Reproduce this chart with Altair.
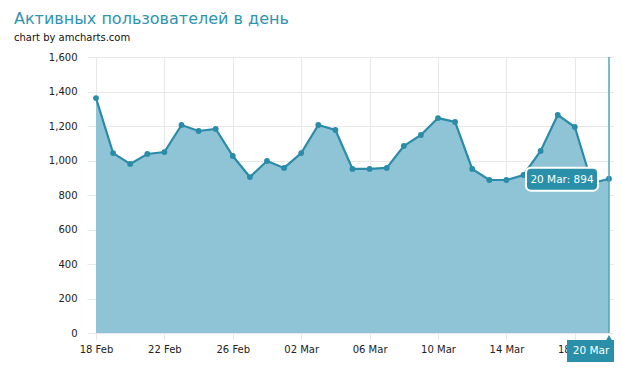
import altair as alt
import pandas as pd

dates = [
    "2014-02-18", "2014-02-19", "2014-02-20", "2014-02-21", "2014-02-22",
    "2014-02-23", "2014-02-24", "2014-02-25", "2014-02-26", "2014-02-27",
    "2014-02-28", "2014-03-01", "2014-03-02", "2014-03-03", "2014-03-04",
    "2014-03-05", "2014-03-06", "2014-03-07", "2014-03-08", "2014-03-09",
    "2014-03-10", "2014-03-11", "2014-03-12", "2014-03-13", "2014-03-14",
    "2014-03-15", "2014-03-16", "2014-03-17", "2014-03-18", "2014-03-19",
    "2014-03-20",
]
values = [
    1362, 1043, 980, 1038, 1049,
    1206, 1171, 1183, 1026, 904,
    997, 957, 1043, 1206, 1177,
    951, 951, 957, 1084, 1148,
    1246, 1223, 951, 887, 887,
    916, 1055, 1264, 1194, 868,
    894,
]
tick_dates = [(2014, 2, 18), (2014, 2, 22), (2014, 2, 26), (2014, 3, 2),
              (2014, 3, 6), (2014, 3, 10), (2014, 3, 14), (2014, 3, 18)]
y_ticks = [0, 200, 400, 600, 800, 1000, 1200, 1400, 1600]
cursor_label = "20 Mar"

df = pd.DataFrame({"date": dates, "value": values})
last = pd.DataFrame({
    "date": [dates[-1]],
    "value": [values[-1]],
    "tip": [f"{cursor_label}: {values[-1]}"],
    "lab": [cursor_label],
})

LINE = "#2a8ca8"
FILL = "#8fc4d6"
GRID = "#e8e8e8"
FONT = "DejaVu Sans"

x_scale = alt.Scale(
    type="utc",
    domain=[alt.DateTime(year=2014, month=2, date=18, utc=True),
            alt.DateTime(year=2014, month=3, date=20, hours=7, utc=True)],
)
x_axis = alt.Axis(
    values=[alt.DateTime(year=y, month=m, date=d, utc=True) for (y, m, d) in tick_dates],
    labelExpr="utcFormat(datum.value, '%d %b')", title=None, grid=True, gridColor=GRID,
    tickColor=GRID, tickSize=7, labelPadding=4, domain=False, labelFlush=False,
    labelFont=FONT, labelFontSize=10, labelColor="#222",
)
y_scale = alt.Scale(domain=[0, 1600], nice=False)
y_axis = alt.Axis(
    values=y_ticks, labelExpr="format(datum.value, ',')", title=None, grid=True,
    gridColor=GRID, tickColor=GRID, tickSize=9, labelPadding=10, domain=False,
    labelFont=FONT, labelFontSize=10, labelColor="#222",
)

X = alt.X("date:T", scale=x_scale, axis=x_axis)
Y = alt.Y("value:Q", scale=y_scale, axis=y_axis)
Y0 = alt.Y(datum=0, type="quantitative", scale=y_scale, axis=y_axis)

base = alt.Chart(df)
area = base.mark_area(color=FILL, opacity=1).encode(x=X, y=Y)
line = base.mark_line(color=LINE, strokeWidth=2.2).encode(x=X, y=Y)
pts = base.mark_circle(color=LINE, size=34, opacity=1).encode(x=X, y=Y)

lb = alt.Chart(last)
cursor = lb.mark_rule(color="#4fa3bb", strokeWidth=1.5).encode(
    x=X, y=alt.Y(datum=1600, type="quantitative", scale=y_scale, axis=y_axis), y2=alt.datum(0))
balloon = lb.mark_rect(
    xOffset=-83, x2Offset=-11, yOffset=-11, y2Offset=12,
    cornerRadius=5, fill="#2a8fa8", stroke="white", strokeWidth=2, opacity=1,
).encode(x=X, x2="date:T", y=Y, y2="value:Q")
balloon_text = lb.mark_text(
    dx=-47, dy=1, color="white", font=FONT, fontSize=10.5,
).encode(x=X, y=Y, text="tip:N")
box = lb.mark_rect(
    xOffset=-42, x2Offset=6, yOffset=7, y2Offset=29, fill="#2a8fa8", opacity=1,
).encode(x=X, x2="date:T", y=Y0, y2=alt.datum(0))
pointer = lb.mark_point(
    shape="triangle-up", filled=True, size=45, color="#2a8fa8", opacity=1, yOffset=5,
).encode(x=X, y=Y0)
box_text = lb.mark_text(
    dx=-18, dy=18, color="white", font=FONT, fontSize=10.5,
).encode(x=X, y=Y0, text="lab:N")

chart = alt.layer(
    area, line, pts, cursor, balloon, balloon_text, box, pointer, box_text
).properties(
    width=518,
    height=276,
    title=alt.TitleParams(
        text="Активных пользователей в день",
        subtitle="chart by amcharts.com",
        anchor="start", frame="group", dx=-82, offset=9,
        font=FONT, fontSize=16, fontWeight="normal", color="#2f94ae",
        subtitleFont=FONT, subtitleFontSize=10, subtitleColor="#111",
        subtitlePadding=6,
    ),
    autosize=alt.AutoSizeParams(type="none"),
    padding={"left": 88, "top": 49, "right": 0, "bottom": 35},
).configure_view(stroke=None).configure(background="white")

chart.save("out.html", embed_options={"renderer": "svg", "actions": False})
